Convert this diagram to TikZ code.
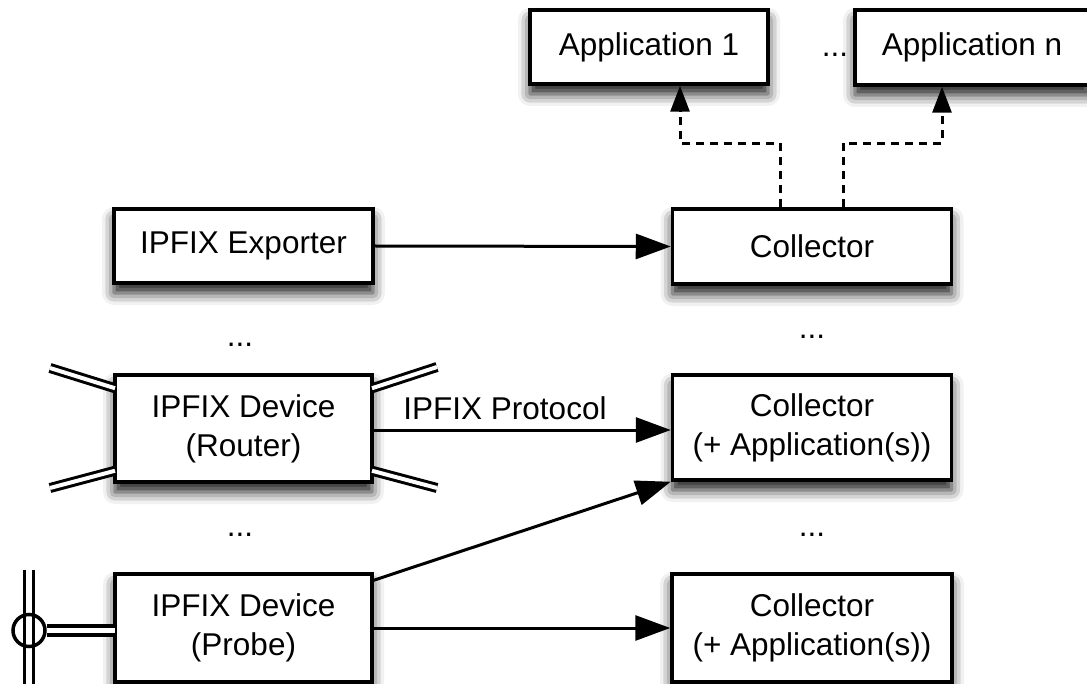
\documentclass[tikz,border=0pt]{standalone}
\usepackage{fontspec}
\setmainfont{Liberation Sans}
\usetikzlibrary{shadows.blur,arrows.meta,calc}
\begin{document}
\begin{tikzpicture}[x=1pt,y=-1pt,
  txt/.style={font=\fontsize{31.5}{39}\selectfont},
  box/.style={txt, draw=black, line width=3.5pt, fill=white, align=center, inner sep=0pt,
    blur shadow={shadow xshift=0pt, shadow yshift=-10pt, shadow blur radius=12pt, shadow opacity=90}},
  solidarrow/.style={line width=3pt, -{Triangle[length=35pt,width=25pt]}},
  dasharrow/.style={line width=3pt, dash pattern=on 8pt off 6pt, -{Triangle[length=26pt,width=19pt]}},
  leg/.style={line width=3pt, double=white, double distance=4pt},
  wire/.style={line width=3.5pt, double=white, double distance=5.5pt},
]
\useasboundingbox (0,0) rectangle (1087,684);

% boxes
\node[box, minimum width=238pt, minimum height=74pt] (app1) at (649,47) {Application 1};
\node[box, minimum width=234pt, minimum height=75pt] (appn) at (972,47.5) {Application n};
\node[txt] (dotsapp) at (835,55) {...};

\node[box, minimum width=259pt, minimum height=74pt] (exp) at (243.5,246) {IPFIX Exporter};
\node[box, minimum width=279pt, minimum height=75pt] (coll) at (812,246.5) {Collector};

\node[txt] (dotsl1) at (240,345) {...};
\node[txt] (dotsr1) at (812,337) {...};

\node[box, minimum width=257pt, minimum height=107pt] (router) at (243.5,428.5) {IPFIX Device\\(Router)};
\node[box, minimum width=279pt, minimum height=105pt] (coll2) at (812,427.5) {Collector\\(+ Application(s))};

\node[txt] (dotsl2) at (240,535) {...};
\node[txt] (dotsr2) at (812,535) {...};

\node[box, minimum width=257pt, minimum height=108pt] (probe) at (243.5,628) {IPFIX Device\\(Probe)};
\node[box, minimum width=280pt, minimum height=108pt] (coll3) at (812,628) {Collector\\(+ Application(s))};

% router legs
\coordinate (rtl) at (50,368);
\coordinate (rtr) at (437,367);
\coordinate (rbl) at (50,488);
\coordinate (rbr) at (437,488);
\draw[leg] (rtl) -- ($(router.north west)+(1.75,15)$);
\draw[leg] (rtr) -- ($(router.north east)+(-1.75,15)$);
\draw[leg] (rbl) -- ($(router.south west)+(1.75,-13)$);
\draw[leg] (rbr) -- ($(router.south east)+(-1.75,-13)$);

% probe attachment
\coordinate (vtop) at (29,570);
\coordinate (vbot) at (29,700);
\draw[wire] (vtop) -- (vbot);
\node[draw, circle, line width=3.5pt, minimum size=32pt, inner sep=0pt] (tap) at (29,630.5) {};
\draw[wire] (tap.east) -- ($(probe.west)+(1.75,2.5)$);

% protocol label
\node[txt, fill=white, inner xsep=6pt, inner ysep=4pt, anchor=base] (plabel) at (505,420) {IPFIX Protocol};

% arrows
\draw[solidarrow] (exp.east) -- (coll.west);
\draw[solidarrow] ($(router.east)+(0,1.5)$) -- ($(coll2.west)+(0,2.5)$);
\draw[solidarrow] ($(probe.north east)+(0,8)$) -- (coll2.south west);
\draw[solidarrow] (probe.east) -- (coll3.west);

\draw[dasharrow] ($(coll.north)+(-32,0)$) -- ++(0,-64) -| ($(app1.south)+(31,0)$);
\draw[dasharrow] ($(coll.north)+(31,0)$) -- ++(0,-64) -| ($(appn.south)+(-30,0)$);
\end{tikzpicture}
\end{document}
